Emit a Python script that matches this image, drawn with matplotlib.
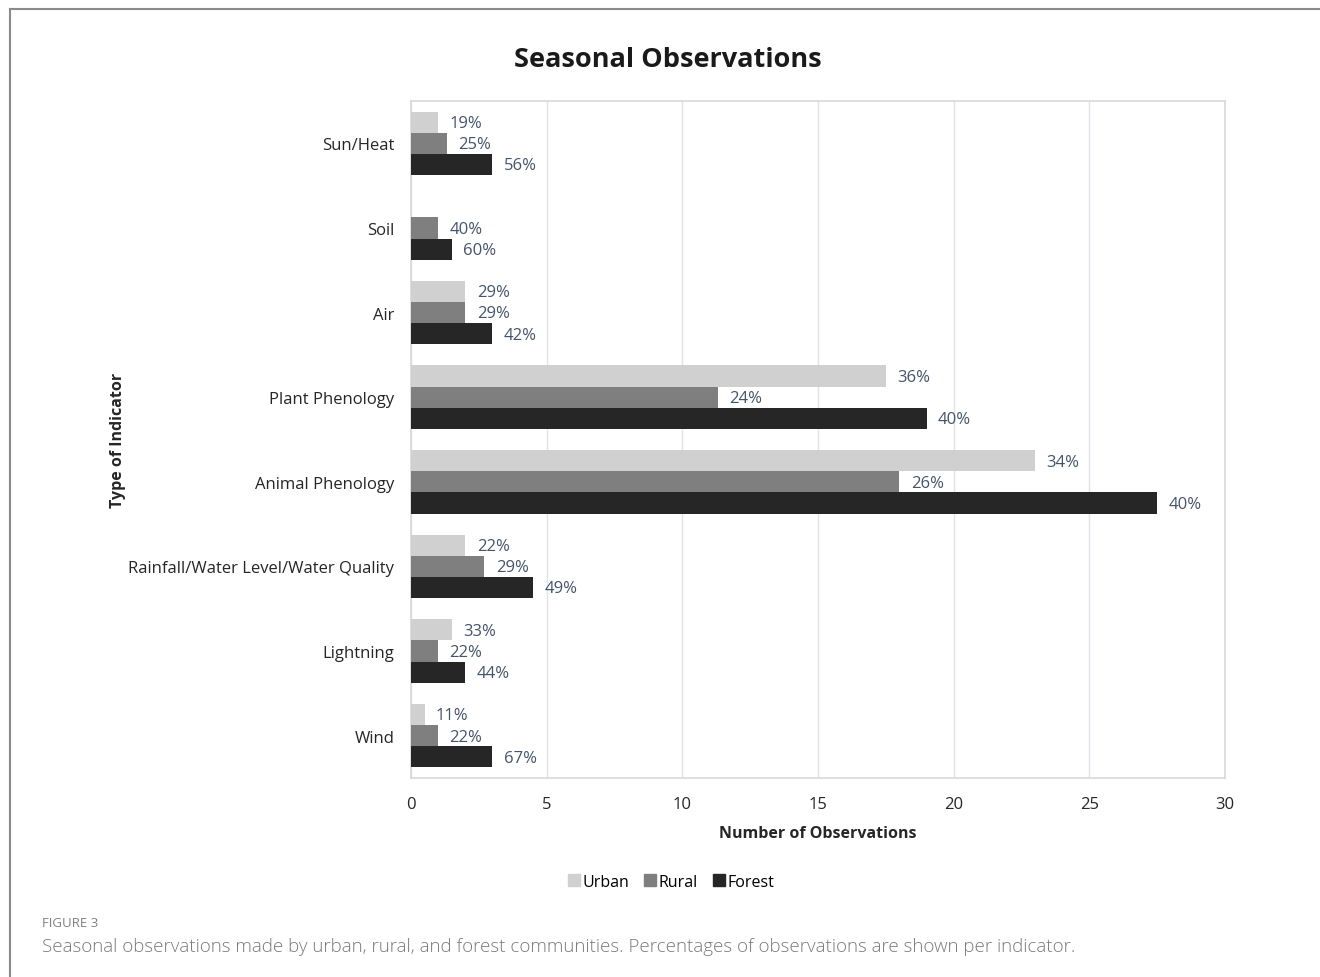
import matplotlib.pyplot as plt
import numpy as np
from matplotlib.lines import Line2D

plt.rcParams["font.family"] = ["Open Sans", "DejaVu Sans"]

indicators = [
    "Sun/Heat",
    "Soil",
    "Air",
    "Plant Phenology",
    "Animal Phenology",
    "Rainfall/Water Level/Water Quality",
    "Lightning",
    "Wind",
]
urban = [1, 0, 2, 17.5, 23, 2, 1.5, 0.5]
rural = [1.33, 1, 2, 11.3, 18, 2.7, 1, 1]
forest = [3, 1.5, 3, 19, 27.5, 4.5, 2, 3]
urban_pct = ["19%", "", "29%", "36%", "34%", "22%", "33%", "11%"]
rural_pct = ["25%", "40%", "29%", "24%", "26%", "29%", "22%", "22%"]
forest_pct = ["56%", "60%", "42%", "40%", "40%", "49%", "44%", "67%"]

series = [
    ("Urban", urban, urban_pct, "#d0d0d0", -0.25),
    ("Rural", rural, rural_pct, "#7f7f7f", 0.0),
    ("Forest", forest, forest_pct, "#262626", 0.25),
]

fig = plt.figure(figsize=(13.2, 9.78), dpi=100)
ax = fig.add_axes([411 / 1320, 1 - 779 / 978, (1225 - 411) / 1320, (779 - 102) / 978])

y = np.arange(len(indicators))
for name, vals, pcts, color, off in series:
    ax.barh(y + off, vals, height=0.25, color=color, label=name, zorder=3)
    for yi, v, p in zip(y, vals, pcts):
        if p:
            ax.text(v + 0.42, yi + off + 0.01, p, va="center", ha="left",
                    fontsize=12, color="#44546a")

ax.set_xlim(0, 30)
ax.set_ylim(len(indicators) - 0.5, -0.5)
ax.set_xticks(range(0, 31, 5))
ax.set_yticks(y)
ax.set_yticklabels(indicators, fontsize=12, color="#262626")
ax.tick_params(axis="x", labelsize=12, colors="#262626", length=0, pad=13)
ax.tick_params(axis="y", length=0, pad=12)
ax.grid(axis="x", color="#dde5e8", linewidth=1, zorder=0)
for s in ax.spines.values():
    s.set_color("#d9d9d9")
    s.set_linewidth(1.2)

ax.set_xlabel("Number of Observations", fontsize=11.5, fontweight="bold",
              color="#262626", labelpad=9)
fig.text(118 / 1320, 1 - 440 / 978, "Type of Indicator", rotation=90,
         ha="center", va="center", fontsize=11.5, fontweight="bold", color="#262626")
fig.text(668 / 1320, 1 - 60 / 978, "Seasonal Observations", ha="center",
         va="center", fontsize=19.5, fontweight="bold", color="#1a1a1a")

handles = [Line2D([0], [0], marker="s", linestyle="", markersize=8,
                  markerfacecolor=c, markeredgecolor=c) for _, _, _, c, _ in series]
fig.legend(handles, [s[0] for s in series], loc="center",
           bbox_to_anchor=(670 / 1320, 1 - 883 / 978), ncol=3, frameon=False,
           fontsize=11.5, handletextpad=0.05, columnspacing=0.8,
           handlelength=1.0)

fig.text(42 / 1320, 1 - 924 / 978, "FIGURE 3", ha="left", va="center",
         fontsize=9.5, color="#808080")
fig.text(42 / 1320, 1 - 947 / 978,
         "Seasonal observations made by urban, rural, and forest communities. "
         "Percentages of observations are shown per indicator.",
         ha="left", va="center", fontsize=13.5, color="#7a7a7a", fontweight="light")

# outer frame (top and left edges only)
fig.add_artist(Line2D([10 / 1320, 10 / 1320], [0, 1 - 10 / 978],
                      transform=fig.transFigure, color="#8a8a8a", linewidth=1.5))
fig.add_artist(Line2D([10 / 1320, 1], [1 - 10 / 978, 1 - 10 / 978],
                      transform=fig.transFigure, color="#8a8a8a", linewidth=1.5))

fig.savefig("out.png", dpi=100, facecolor="white")
